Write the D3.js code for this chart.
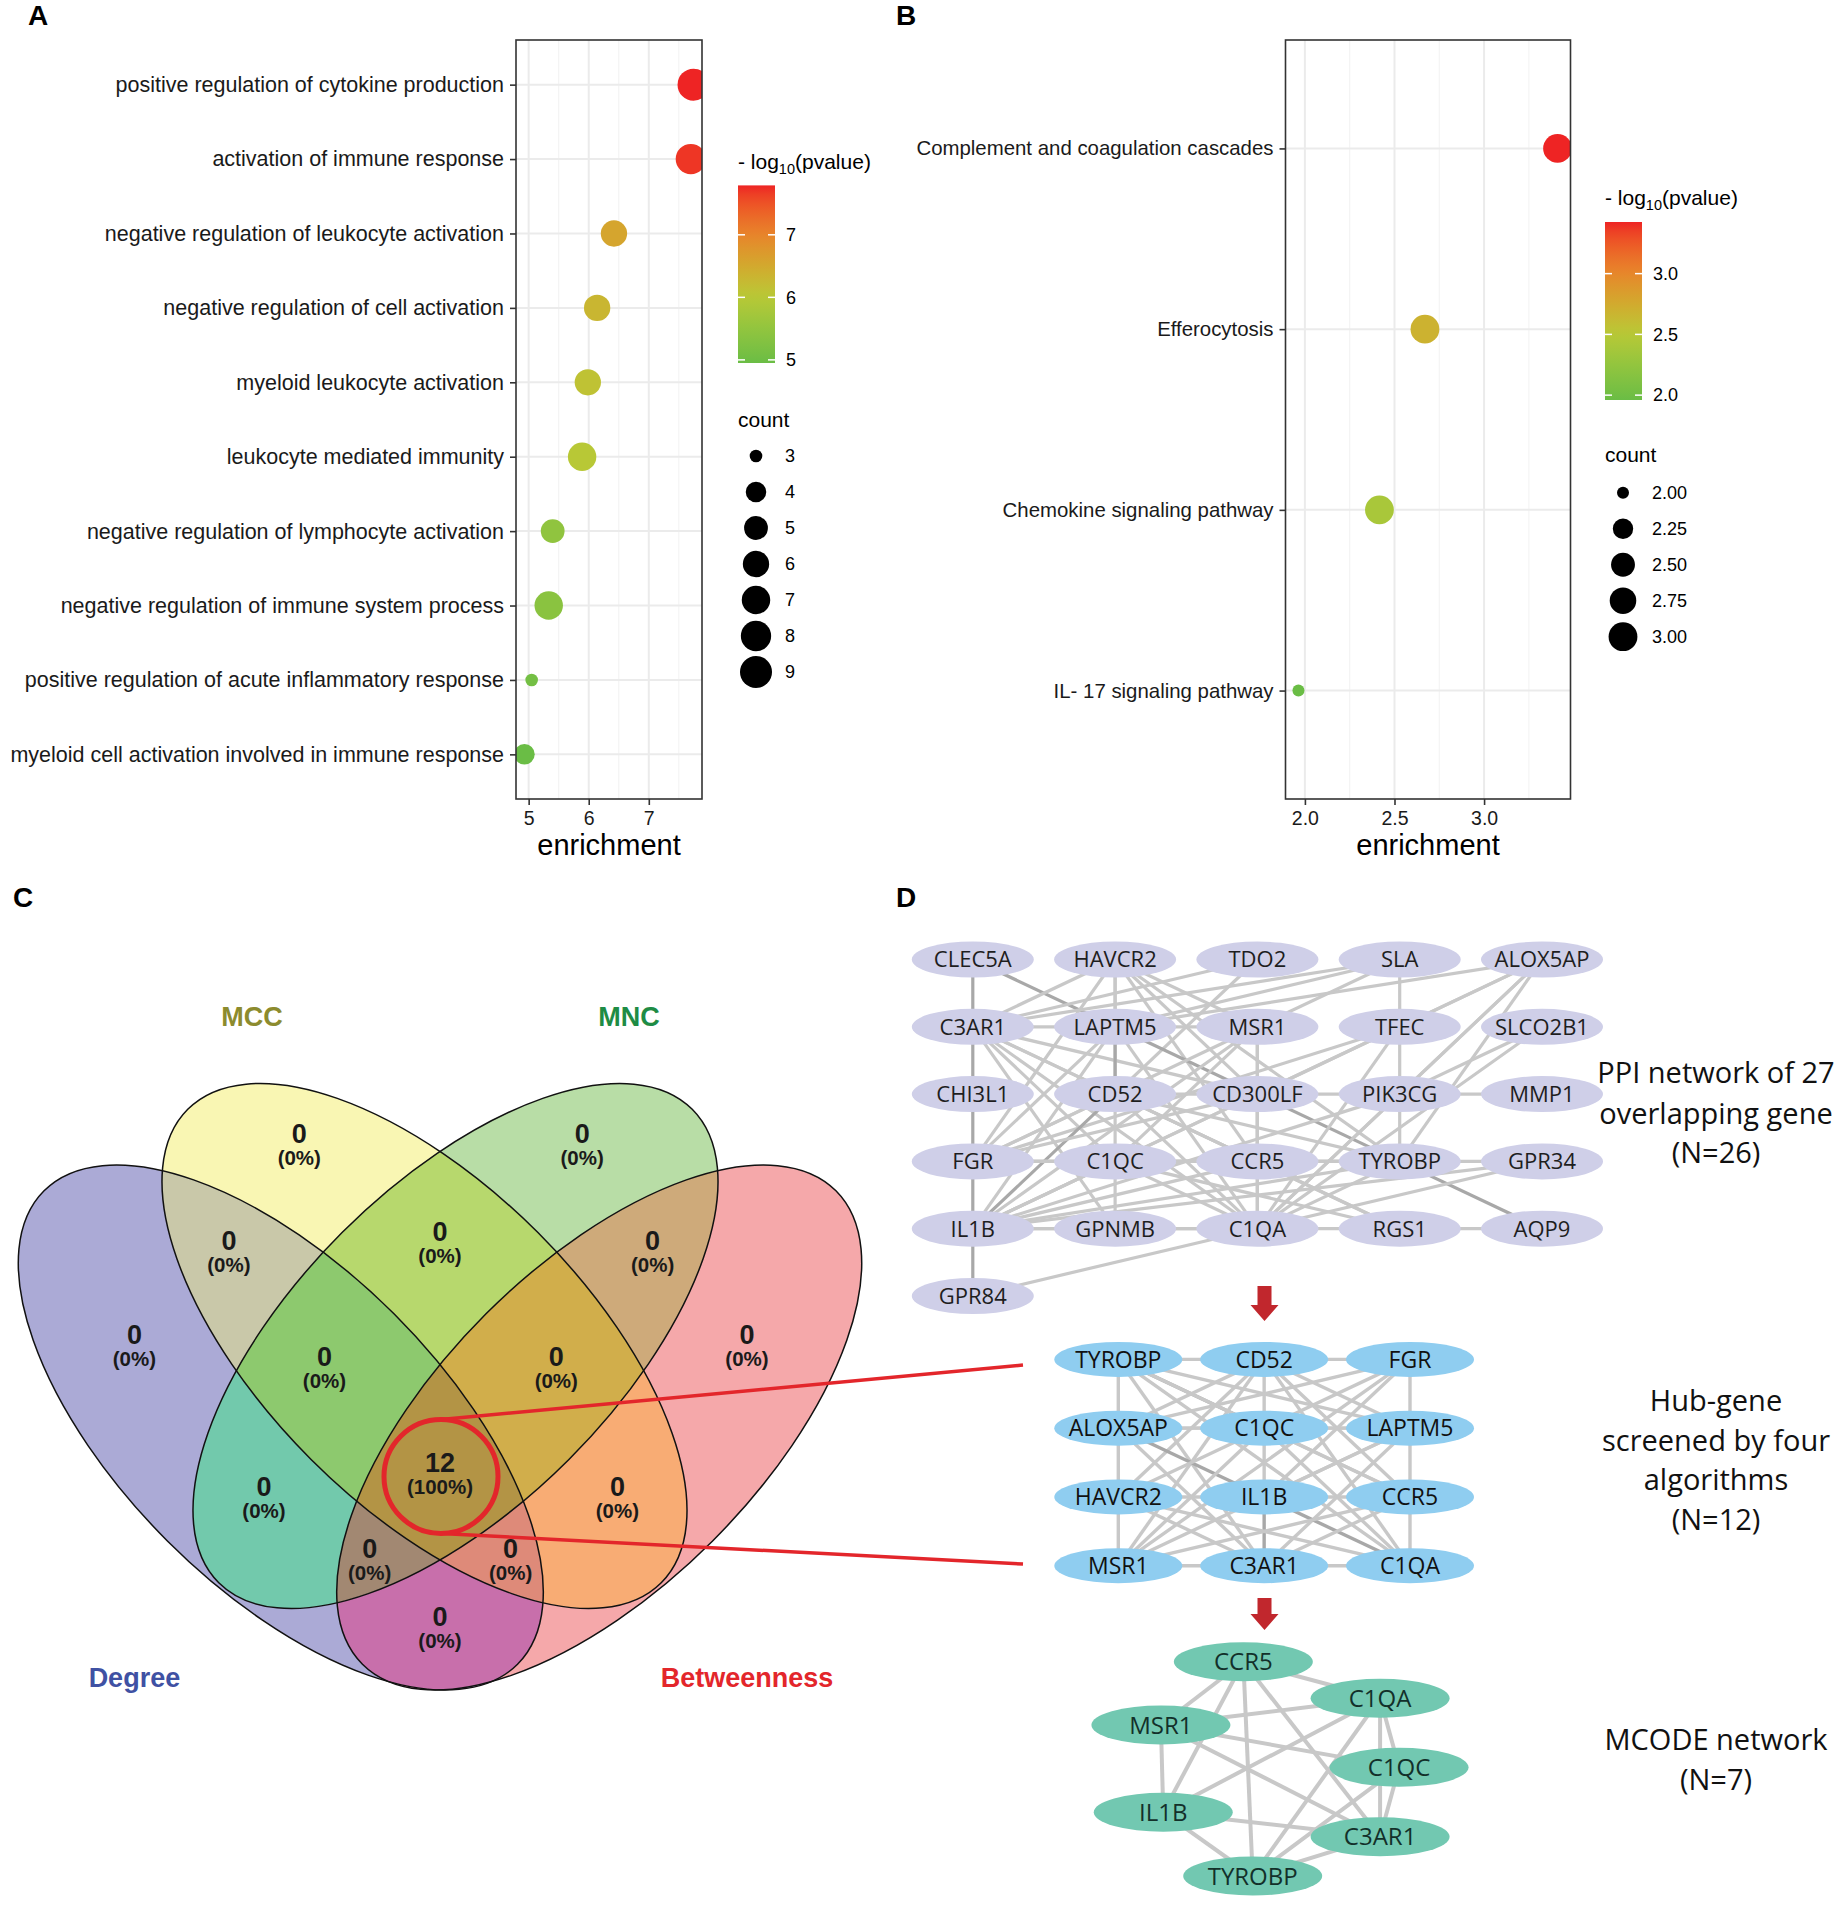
<!DOCTYPE html>
<html><head><meta charset="utf-8">
<script src="https://cdn.jsdelivr.net/npm/d3@7"></script>
<style>body{margin:0;background:#fff} svg{display:block}</style>
</head><body>
<script>
// ---------------- DATA ----------------
// Panel A: GO enrichment
const goTerms = ["positive regulation of cytokine production","activation of immune response","negative regulation of leukocyte activation","negative regulation of cell activation","myeloid leukocyte activation","leukocyte mediated immunity","negative regulation of lymphocyte activation","negative regulation of immune system process","positive regulation of acute inflammatory response","myeloid cell activation involved in immune response"];
const goEnrichment = [7.745, 7.70, 6.42, 6.14, 5.985, 5.89, 5.40, 5.334, 5.05, 4.93];
const goCount = [9, 8, 6, 6, 6, 7, 5, 7, 3, 4];
const goLogP = [7.79, 7.70, 6.55, 6.30, 6.12, 6.02, 5.48, 5.38, 5.08, 4.95];
const goXTicks = [5, 6, 7];
const goColorBreaks = [5, 6, 7];
const goCountBreaks = [3, 4, 5, 6, 7, 8, 9];

// Panel B: KEGG enrichment
const keggTerms = ["Complement and coagulation cascades","Efferocytosis","Chemokine signaling pathway","IL- 17 signaling pathway"];
const keggEnrichment = [3.41, 2.67, 2.416, 1.964];
const keggCount = [3, 3, 3, 2];
const keggLogP = [3.425, 2.69, 2.40, 1.96];
const keggXTicks = [2.0, 2.5, 3.0];
const keggColorBreaks = [2.0, 2.5, 3.0];
const keggCountBreaks = [2.00, 2.25, 2.50, 2.75, 3.00];

// Panel C: Venn
const vennSets = ["Degree", "MCC", "MNC", "Betweenness"];
const vennRegionKeys = ["1000","0100","0010","0001","1100","0110","0011","1110","0111","1111","1010","0101","1011","1101","1001"];
const vennRegionValues = [0,0,0,0,0,0,0,0,0,12,0,0,0,0,0];

// Panel D: networks
const ppiNodes = ["CLEC5A","HAVCR2","TDO2","SLA","ALOX5AP","C3AR1","LAPTM5","MSR1","TFEC","SLCO2B1","CHI3L1","CD52","CD300LF","PIK3CG","MMP1","FGR","C1QC","CCR5","TYROBP","GPR34","IL1B","GPNMB","C1QA","RGS1","AQP9","GPR84"];
const ppiEdges = [
 ["CLEC5A","C3AR1",1],["C3AR1","CHI3L1",1],["CHI3L1","FGR",1],["FGR","IL1B",1],["IL1B","GPR84",1],["CLEC5A","LAPTM5",1],
 ["HAVCR2","C3AR1"],["HAVCR2","LAPTM5"],["HAVCR2","MSR1"],["HAVCR2","CD300LF"],["HAVCR2","CD52"],["HAVCR2","CCR5"],["HAVCR2","TYROBP"],["HAVCR2","FGR"],
 ["TDO2","C3AR1"],["TDO2","CD52"],["SLA","C3AR1"],["SLA","LAPTM5"],["SLA","TFEC"],["SLA","MSR1"],
 ["ALOX5AP","LAPTM5"],["ALOX5AP","TFEC"],["ALOX5AP","PIK3CG"],["ALOX5AP","TYROBP"],["ALOX5AP","CD300LF"],["ALOX5AP","C1QA"],
 ["C3AR1","LAPTM5"],["C3AR1","CD52"],["C3AR1","CD300LF"],["C3AR1","C1QC"],["C3AR1","CCR5"],["C3AR1","C1QA"],["C3AR1","GPNMB"],
 ["LAPTM5","MSR1"],["LAPTM5","CD52",1],["LAPTM5","TYROBP",1],["LAPTM5","FGR"],["LAPTM5","IL1B"],["LAPTM5","C1QA"],
 ["MSR1","CD300LF"],["MSR1","FGR"],["MSR1","IL1B"],["MSR1","C1QC"],["MSR1","CCR5"],["MSR1","C1QA"],
 ["TFEC","PIK3CG"],["TFEC","FGR"],["TFEC","IL1B"],["TFEC","C1QA"],["SLCO2B1","PIK3CG"],["SLCO2B1","C1QA"],
 ["CD52","CD300LF"],["CD52","C1QC"],["CD52","IL1B",1],["CD52","FGR"],["CD52","CCR5"],["CD52","C1QA"],["CD52","TYROBP"],["CD52","RGS1"],
 ["CD300LF","PIK3CG"],["CD300LF","CCR5"],["CD300LF","IL1B"],["CD300LF","FGR"],["CD300LF","C1QA"],
 ["PIK3CG","MMP1"],["PIK3CG","TYROBP"],["PIK3CG","IL1B"],["PIK3CG","C1QA"],
 ["FGR","C1QC"],["FGR","CCR5"],["FGR","TYROBP"],["C1QC","CCR5"],["C1QC","GPNMB"],["C1QC","IL1B"],["C1QC","C1QA"],["C1QC","TYROBP"],["C1QC","RGS1"],
 ["CCR5","TYROBP"],["CCR5","C1QA"],["CCR5","IL1B"],["CCR5","RGS1"],
 ["TYROBP","GPR34"],["TYROBP","AQP9",1],["TYROBP","IL1B"],["TYROBP","C1QA"],["GPR34","C1QA"],["GPR34","IL1B"],
 ["IL1B","GPNMB"],["IL1B","C1QA"],["GPNMB","C1QA"],["C1QA","RGS1"],["RGS1","AQP9"],["GPR84","C1QA"]
];
const hubNodes = ["TYROBP","CD52","FGR","ALOX5AP","C1QC","LAPTM5","HAVCR2","IL1B","CCR5","MSR1","C3AR1","C1QA"];
const hubEdges = [
 ["TYROBP","CD52"],["CD52","FGR"],["ALOX5AP","C1QC"],["C1QC","LAPTM5"],["HAVCR2","IL1B"],["IL1B","CCR5"],["MSR1","C3AR1"],["C3AR1","C1QA"],
 ["TYROBP","ALOX5AP"],["ALOX5AP","HAVCR2"],["HAVCR2","MSR1"],["CD52","C1QC"],["C1QC","IL1B"],["IL1B","C3AR1",1],["FGR","LAPTM5"],["LAPTM5","CCR5"],["CCR5","C1QA"],
 ["TYROBP","C1QC",1],["TYROBP","LAPTM5"],["TYROBP","CCR5"],["TYROBP","C1QA"],["TYROBP","C3AR1"],
 ["CD52","ALOX5AP"],["CD52","HAVCR2"],["CD52","LAPTM5"],["CD52","CCR5"],["CD52","C1QA"],["CD52","MSR1"],
 ["FGR","C1QC"],["FGR","ALOX5AP"],["FGR","IL1B"],["FGR","MSR1"],
 ["ALOX5AP","IL1B",1],["ALOX5AP","C3AR1"],["ALOX5AP","LAPTM5"],
 ["C1QC","MSR1"],["C1QC","HAVCR2"],["C1QC","CCR5"],["C1QC","C1QA"],
 ["LAPTM5","IL1B"],["LAPTM5","MSR1"],["LAPTM5","C3AR1"],["HAVCR2","C3AR1"],["HAVCR2","C1QA"],
 ["IL1B","C1QA",1],["CCR5","MSR1"],["CCR5","C3AR1"]
];
const mcodeNodes = ["CCR5","C1QA","MSR1","C1QC","IL1B","C3AR1","TYROBP"];
const mcodeEdges = [
 ["CCR5","C1QA"],["CCR5","MSR1"],["CCR5","IL1B"],["CCR5","TYROBP"],["CCR5","C3AR1"],
 ["MSR1","C1QA"],["MSR1","IL1B"],["MSR1","C1QC"],["MSR1","C3AR1"],
 ["C1QA","C1QC"],["C1QA","C3AR1"],["C1QA","IL1B"],["C1QA","TYROBP"],
 ["C1QC","C3AR1"],["C1QC","TYROBP"],["IL1B","C3AR1"],["IL1B","TYROBP"],["C3AR1","TYROBP"]
];
const ppiCaption = ["PPI network of 27","overlapping gene","(N=26)"];
const hubCaption = ["Hub-gene","screened by four","algorithms","(N=12)"];
const mcodeCaption = ["MCODE network","(N=7)"];

// ---------------- LAYOUT ----------------
const W = 1843, H = 1912;
const FONT = "'Liberation Sans', Arial, Helvetica, sans-serif";
const NFONT = "'Open Sans', 'DejaVu Sans', sans-serif";
const svg = d3.select("body").append("svg").attr("width", W).attr("height", H);
svg.append("rect").attr("width", W).attr("height", H).attr("fill", "#fff");
const defs = svg.append("defs");

// colour gradient (green -> yellow -> red)
const gradPos = [0, 0.2, 0.38, 0.55, 0.73, 1];
const gradCol = ["#6ABD45", "#93C53E", "#B9C836", "#D3A82E", "#E8822B", "#EE2424"];
const gradScale = d3.scaleLinear().domain(gradPos).range(gradCol).interpolate(d3.interpolateLab);
const lg = defs.append("linearGradient").attr("id", "cbGrad").attr("x1", 0).attr("y1", 1).attr("x2", 0).attr("y2", 0);
d3.range(0, 1.0001, 0.05).forEach(t => lg.append("stop").attr("offset", t).attr("stop-color", gradScale(t)));

function panelLabel(txt, x, y) {
  svg.append("text").attr("x", x).attr("y", y).attr("font-family", FONT).attr("font-weight", "bold")
    .attr("font-size", 28).attr("fill", "#000").text(txt);
}

function dotPlot(o) {
  const g = svg.append("g");
  const { x0, x1, y0, y1 } = o.box;
  const ext = d3.extent(o.enr), pad = (ext[1] - ext[0]) * 0.05;
  const x = d3.scaleLinear().domain([ext[0] - pad, ext[1] + pad]).range([x0, x1]);
  const y = d3.scalePoint().domain(o.terms).range([y0, y1]).padding(0.6);
  const color = d3.scaleSequential(gradScale).domain(d3.extent(o.logp));
  const sizeT = d3.scaleLinear().domain(o.sizeDomain).range([0, 1]);
  const r = d3.scaleSqrt().domain([0, 1]).range(o.sizeRange);

  const step = o.xTicks[1] - o.xTicks[0];
  const minors = [];
  for (let v = o.xTicks[0] - step / 2; v <= x.domain()[1]; v += step) if (v >= x.domain()[0]) minors.push(v);
  g.selectAll(".mn").data(minors).join("line").attr("x1", d => x(d)).attr("x2", d => x(d))
    .attr("y1", y0).attr("y2", y1).attr("stroke", "#F3F3F3").attr("stroke-width", 1.1);
  g.selectAll(".mx").data(o.xTicks).join("line").attr("x1", d => x(d)).attr("x2", d => x(d))
    .attr("y1", y0).attr("y2", y1).attr("stroke", "#EBEBEB").attr("stroke-width", 2);
  g.selectAll(".my").data(o.terms).join("line").attr("x1", x0).attr("x2", x1)
    .attr("y1", d => y(d)).attr("y2", d => y(d)).attr("stroke", "#EBEBEB").attr("stroke-width", 2);

  const cid = "clip" + o.id;
  defs.append("clipPath").attr("id", cid).append("rect").attr("x", x0).attr("y", y0).attr("width", x1 - x0).attr("height", y1 - y0);
  g.append("g").attr("clip-path", `url(#${cid})`).selectAll("circle").data(o.terms).join("circle")
    .attr("cx", (d, i) => x(o.enr[i])).attr("cy", d => y(d))
    .attr("r", (d, i) => r(sizeT(o.count[i]))).attr("fill", (d, i) => color(o.logp[i]));

  g.append("rect").attr("x", x0).attr("y", y0).attr("width", x1 - x0).attr("height", y1 - y0)
    .attr("fill", "none").attr("stroke", "#333").attr("stroke-width", 1.6);

  const ay = g.append("g").attr("transform", `translate(${x0},0)`)
    .call(d3.axisLeft(y).tickSize(6).tickPadding(6));
  ay.select(".domain").remove();
  ay.selectAll("line").attr("stroke", "#333").attr("stroke-width", 1.6);
  ay.selectAll("text").attr("font-family", FONT).attr("font-size", o.labelSize).attr("fill", "#1a1a1a");

  const ax = g.append("g").attr("transform", `translate(0,${y1})`)
    .call(d3.axisBottom(x).tickValues(o.xTicks).tickFormat(o.tickFmt).tickSize(6).tickPadding(6));
  ax.select(".domain").remove();
  ax.selectAll("line").attr("stroke", "#333").attr("stroke-width", 1.6);
  ax.selectAll("text").attr("font-family", FONT).attr("font-size", 19.5).attr("fill", "#1a1a1a");
  g.append("text").attr("x", (x0 + x1) / 2).attr("y", o.titleY).attr("dy", "0.35em").attr("text-anchor", "middle")
    .attr("font-family", FONT).attr("font-size", 29).attr("fill", "#000").text("enrichment");

  // colour legend
  const L = o.legend;
  const t = g.append("text").attr("x", L.x).attr("y", L.titleY).attr("dy", "0.35em")
    .attr("font-family", FONT).attr("font-size", 21).attr("fill", "#000");
  t.append("tspan").text("- log");
  t.append("tspan").attr("font-size", 14.5).attr("dy", 5).text("10");
  t.append("tspan").attr("dy", -5).text("(pvalue)");
  const bw = 37;
  g.append("rect").attr("x", L.x).attr("y", L.barY0).attr("width", bw).attr("height", L.barY1 - L.barY0).attr("fill", "url(#cbGrad)");
  const cb = d3.scaleLinear().domain(color.domain()).range([L.barY1, L.barY0]);
  o.colorBreaks.forEach(b => {
    [[0, 7], [bw - 7, bw]].forEach(([a, c]) => g.append("line").attr("x1", L.x + a).attr("x2", L.x + c)
      .attr("y1", cb(b)).attr("y2", cb(b)).attr("stroke", "#fff").attr("stroke-width", 1.5));
    g.append("text").attr("x", L.x + 48).attr("y", cb(b)).attr("dy", "0.35em").attr("font-family", FONT)
      .attr("font-size", 18).attr("fill", "#000").text(o.cbFmt(b));
  });
  g.append("text").attr("x", L.x).attr("y", L.countTitleY).attr("dy", "0.35em").attr("font-family", FONT)
    .attr("font-size", 21).attr("fill", "#000").text("count");
  o.countBreaks.forEach((b, i) => {
    const cy = L.countY0 + i * 36;
    g.append("circle").attr("cx", L.x + 18).attr("cy", cy).attr("r", r(sizeT(b))).attr("fill", "#000");
    g.append("text").attr("x", L.x + 47).attr("y", cy).attr("dy", "0.35em").attr("font-family", FONT)
      .attr("font-size", 18).attr("fill", "#000").text(o.countFmt(b));
  });
}

dotPlot({ id: "A", terms: goTerms, enr: goEnrichment, count: goCount, logp: goLogP, xTicks: goXTicks,
  colorBreaks: goColorBreaks, countBreaks: goCountBreaks, box: { x0: 516, x1: 702, y0: 40, y1: 799 },
  sizeDomain: [3, 9], sizeRange: [6.3, 16], labelSize: 21.5, titleY: 845, tickFmt: d3.format("d"),
  cbFmt: d3.format("d"), countFmt: d3.format("d"),
  legend: { x: 738, titleY: 162, barY0: 185.4, barY1: 363, countTitleY: 420, countY0: 456 } });

dotPlot({ id: "B", terms: keggTerms, enr: keggEnrichment, count: keggCount, logp: keggLogP, xTicks: keggXTicks,
  colorBreaks: keggColorBreaks, countBreaks: keggCountBreaks, box: { x0: 1285.5, x1: 1570.5, y0: 40, y1: 799 },
  sizeDomain: [2, 3], sizeRange: [6, 14.4], labelSize: 20.4, titleY: 845, tickFmt: d3.format(".1f"),
  cbFmt: d3.format(".1f"), countFmt: d3.format(".2f"),
  legend: { x: 1605, titleY: 198, barY0: 222, barY1: 400, countTitleY: 455, countY0: 492.7 } });

panelLabel("A", 28, 25);
panelLabel("B", 896, 25);
panelLabel("C", 13, 907);
panelLabel("D", 896, 907);

// ---------------- VENN (C) ----------------
const vx = d3.scaleLinear().domain([0, 1]).range([-60, 940]);
const vy = d3.scaleLinear().domain([0, 1]).range([1000, 2000]);
const vr = d3.scaleLinear().domain([0, 1]).range([0, 1000]);
const vennEllipse = [
  { cx: 0.3408, cy: 0.4275, rot: 45 }, { cx: 0.4845, cy: 0.346, rot: 45 },
  { cx: 0.5155, cy: 0.346, rot: -45 }, { cx: 0.6592, cy: 0.4275, rot: -45 }];
const vennA = 0.3348, vennB = 0.1604;
const vennRegionColor = { "1000": "#ABAAD6", "0100": "#F9F6B3", "0010": "#B8DDA6", "0001": "#F5A8AA",
  "1100": "#C9C8A9", "0110": "#B7D86D", "0011": "#CEAA7A", "1110": "#8DC96E", "0111": "#D1AE4B",
  "1111": "#B39445", "1010": "#72C9AC", "0101": "#F8AC74", "1011": "#A28872", "1101": "#DE8A79", "1001": "#C86FAB" };
const vennLabelPos = { "1000": [0.1944, 0.3355], "0100": [0.3593, 0.1354], "0010": [0.6422, 0.1354], "0001": [0.807, 0.3355],
  "1100": [0.2889, 0.2415], "0110": [0.5, 0.2327], "0011": [0.7126, 0.2415], "1110": [0.3845, 0.3583], "0111": [0.6163, 0.3583],
  "1111": [0.5, 0.4644], "1010": [0.324, 0.488], "0101": [0.6774, 0.488], "1011": [0.4297, 0.5497], "1101": [0.5706, 0.5497], "1001": [0.5, 0.6176] };
const vennNamePos = [[0.1944, 0.677], [0.312, 0.016], [0.689, 0.016], [0.807, 0.677]];
const vennNameColor = ["#3F51A3", "#8C8B2E", "#1E8C45", "#E3262B"];

function ellipseAttrs(sel, e) {
  return sel.attr("transform", `translate(${vx(e.cx)},${vy(e.cy)}) rotate(${e.rot})`)
    .attr("rx", vr(vennA)).attr("ry", vr(vennB));
}
vennEllipse.forEach((e, i) => ellipseAttrs(defs.append("clipPath").attr("id", "ve" + i).append("ellipse"), e));
const vg = svg.append("g");
vennRegionKeys.forEach(key => {
  const inc = [], exc = [];
  key.split("").forEach((c, i) => (c === "1" ? inc : exc).push(i));
  let g = vg;
  inc.forEach(i => { g = g.append("g").attr("clip-path", `url(#ve${i})`); });
  const rect = g.append("rect").attr("x", 0).attr("y", 1000).attr("width", 900).attr("height", 750)
    .attr("fill", vennRegionColor[key]);
  if (exc.length) {
    const m = defs.append("mask").attr("id", "vm" + key).attr("maskUnits", "userSpaceOnUse")
      .attr("x", 0).attr("y", 1000).attr("width", 900).attr("height", 750);
    m.append("rect").attr("x", 0).attr("y", 1000).attr("width", 900).attr("height", 750).attr("fill", "#fff");
    exc.forEach(i => ellipseAttrs(m.append("ellipse"), vennEllipse[i]).attr("fill", "#000"));
    rect.attr("mask", `url(#vm${key})`);
  }
});
vennEllipse.forEach(e => ellipseAttrs(vg.append("ellipse"), e).attr("fill", "none").attr("stroke", "#111").attr("stroke-width", 1.5));
const vTotal = d3.sum(vennRegionValues);
vennRegionKeys.forEach((key, i) => {
  const [px, py] = vennLabelPos[key];
  const t = vg.append("text").attr("x", vx(px)).attr("y", vy(py)).attr("text-anchor", "middle")
    .attr("font-family", FONT).attr("font-weight", "bold").attr("fill", "#1a1a1a");
  t.append("tspan").attr("x", vx(px)).attr("dy", 8).attr("font-size", 27).text(vennRegionValues[i]);
  t.append("tspan").attr("x", vx(px)).attr("dy", 22).attr("font-size", 20.5)
    .text(`(${Math.round(vennRegionValues[i] / vTotal * 100)}%)`);
});
vennSets.forEach((s, i) => {
  vg.append("text").attr("x", vx(vennNamePos[i][0])).attr("y", vy(vennNamePos[i][1])).attr("dy", "0.36em")
    .attr("text-anchor", "middle").attr("font-family", FONT).attr("font-weight", "bold").attr("font-size", 27)
    .attr("fill", vennNameColor[i]).text(s);
});
// highlight
const hl = { cx: 0.501, cy: 0.4765, r: 0.057 };
svg.append("line").attr("x1", vx(hl.cx)).attr("y1", vy(hl.cy - hl.r)).attr("x2", 1023).attr("y2", 1365)
  .attr("stroke", "#E3262B").attr("stroke-width", 3.5);
svg.append("line").attr("x1", vx(hl.cx)).attr("y1", vy(hl.cy + hl.r)).attr("x2", 1023).attr("y2", 1564)
  .attr("stroke", "#E3262B").attr("stroke-width", 3.5);
svg.append("circle").attr("cx", vx(hl.cx)).attr("cy", vy(hl.cy)).attr("r", vr(hl.r))
  .attr("fill", "none").attr("stroke", "#E3262B").attr("stroke-width", 5);

// ---------------- NETWORKS (D) ----------------
function network(o) {
  const g = svg.append("g");
  const pos = {};
  o.nodes.forEach((n, i) => pos[n] = o.place(n, i));
  g.selectAll("line").data(o.edges).join("line")
    .attr("x1", d => pos[d[0]][0]).attr("y1", d => pos[d[0]][1])
    .attr("x2", d => pos[d[1]][0]).attr("y2", d => pos[d[1]][1])
    .attr("stroke", d => d[2] ? "#A8A8A8" : "#C8C8C8").attr("stroke-width", o.ew);
  g.selectAll("ellipse").data(o.nodes).join("ellipse")
    .attr("cx", d => pos[d][0]).attr("cy", d => pos[d][1]).attr("rx", o.rx).attr("ry", o.ry).attr("fill", o.fill);
  g.selectAll("text").data(o.nodes).join("text")
    .attr("x", d => pos[d][0]).attr("y", d => pos[d][1]).attr("dy", "0.36em").attr("text-anchor", "middle")
    .attr("font-family", NFONT).attr("font-size", o.fs).attr("fill", o.tc).text(d => d);
}
const ppiX = d3.scaleLinear().domain([0, 4]).range([972.8, 1542]);
const ppiY = d3.scaleLinear().domain([0, 5]).range([959.5, 1296]);
network({ nodes: ppiNodes, edges: ppiEdges, place: (n, i) => [ppiX(i % 5), ppiY(Math.floor(i / 5))],
  rx: 61, ry: 18, fill: "#CFCFE8", fs: 22, tc: "#1e1e1e", ew: 3.2 });
const hubX = d3.scaleLinear().domain([0, 2]).range([1118.3, 1410]);
const hubY = d3.scaleLinear().domain([0, 3]).range([1359.4, 1565.7]);
network({ nodes: hubNodes, edges: hubEdges, place: (n, i) => [hubX(i % 3), hubY(Math.floor(i / 3))],
  rx: 64, ry: 17.5, fill: "#8FCDF0", fs: 23, tc: "#111", ew: 3.4 });
const mcodeLayout = [[0.359, 0.008], [0.885, 0.177], [0.042, 0.301], [0.958, 0.497], [0.051, 0.705], [0.885, 0.818], [0.395, 1.0]];
const mX = d3.scaleLinear().domain([0, 1]).range([1150, 1410]);
const mY = d3.scaleLinear().domain([0, 1]).range([1660, 1876]);
network({ nodes: mcodeNodes, edges: mcodeEdges, place: (n, i) => [mX(mcodeLayout[i][0]), mY(mcodeLayout[i][1])],
  rx: 69.5, ry: 19.5, fill: "#72C8B1", fs: 24, tc: "#13302a", ew: 4 });

// arrows
function arrow(cx, yTop, yHead, yTip) {
  const p = d3.path();
  p.moveTo(cx - 7, yTop); p.lineTo(cx + 7, yTop); p.lineTo(cx + 7, yHead); p.lineTo(cx + 14, yHead);
  p.lineTo(cx, yTip); p.lineTo(cx - 14, yHead); p.lineTo(cx - 7, yHead); p.closePath();
  svg.append("path").attr("d", p.toString()).attr("fill", "#C1272D");
}
arrow(1264.5, 1286, 1305, 1321);
arrow(1264.5, 1598, 1614, 1630);

// captions
function caption(lines, ys) {
  lines.forEach((l, i) => svg.append("text").attr("x", 1716).attr("y", ys[i]).attr("dy", "0.36em")
    .attr("text-anchor", "middle").attr("font-family", "'Open Sans', sans-serif").attr("font-size", 29)
    .attr("fill", "#111").text(l));
}
caption(ppiCaption, [1073, 1114, 1153]);
caption(hubCaption, [1401, 1441, 1480, 1520]);
caption(mcodeCaption, [1740, 1780]);
</script>
</body></html>
